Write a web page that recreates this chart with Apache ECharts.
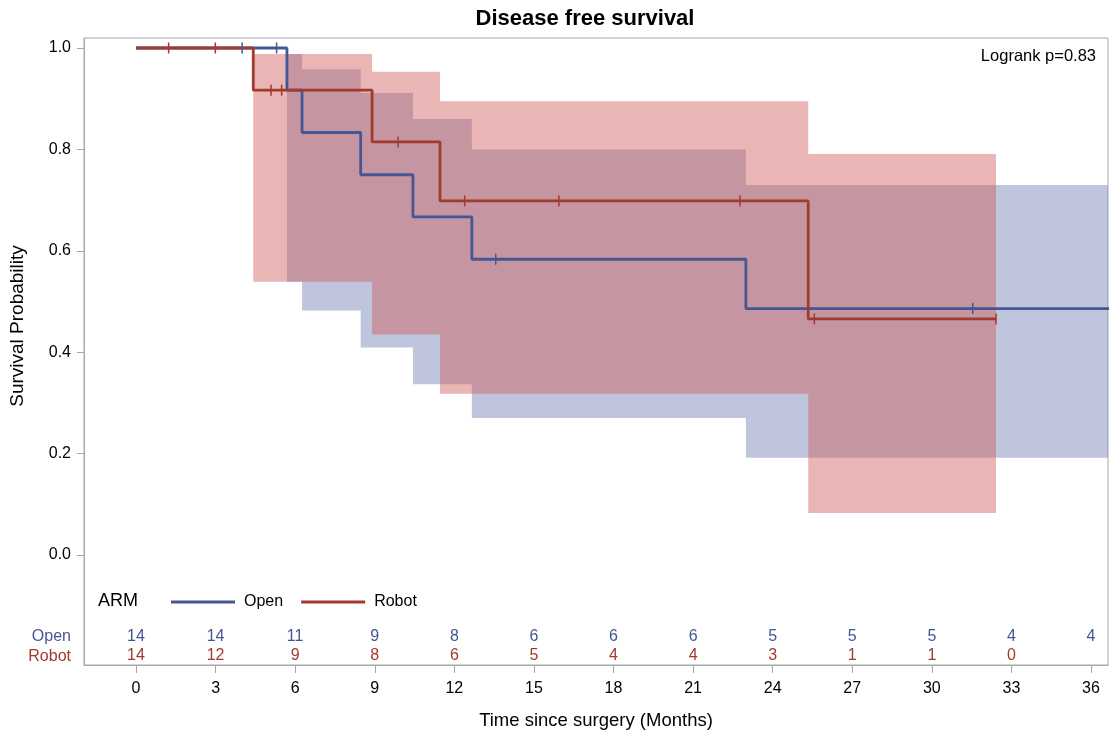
<!DOCTYPE html>
<html>
<head>
<meta charset="utf-8">
<script src="https://cdn.jsdelivr.net/npm/echarts@6/dist/echarts.min.js"></script>
<style>html,body{margin:0;padding:0;background:#fff}#c{width:1109px;height:735px}</style>
</head>
<body>
<div id="c"></div>
<script>
// ---- data ----
const xTicks = [0,3,6,9,12,15,18,21,24,27,30,33,36];
const yTicks = [0,0.2,0.4,0.6,0.8,1.0];
const seriesNames = ['Open','Robot'];
// KM step curves [time, survival]
const openCurve = [[0,1],[5.69,0.9167],[6.26,0.8333],[8.47,0.75],[10.44,0.6667],[12.66,0.5833],[22.99,0.4861],[37,0.4861]];
const robotCurve = [[0,1],[4.42,0.9167],[8.9,0.8148],[11.46,0.6984],[25.34,0.4656],[32.42,0.4656]];
// censored observations
const openCensor = [[4.0,1],[5.3,1],[13.56,0.5833],[31.54,0.4861]];
const robotCensor = [[1.23,1],[2.99,1],[5.09,0.9167],[5.49,0.9167],[9.88,0.8148],[12.39,0.6984],[15.94,0.6984],[22.77,0.6984],[25.57,0.4656],[32.42,0.4656]];
// confidence bands: [start, end, lower, upper]
const openBand = [[5.69,6.26,0.539,0.988],[6.26,8.47,0.482,0.958],[8.47,10.44,0.409,0.911],[10.44,12.66,0.337,0.860],[12.66,22.99,0.270,0.800],[22.99,37,0.192,0.730]];
const robotBand = [[4.42,8.9,0.539,0.988],[8.9,11.46,0.435,0.953],[11.46,25.34,0.318,0.895],[25.34,32.42,0.083,0.791]];
// numbers at risk
const openAtRisk = [14,14,11,9,8,6,6,6,5,5,5,4,4];
const robotAtRisk = [14,12,9,8,6,5,4,4,3,1,1,0];

const BLUE = '#445694', RED = '#A23A2E';
const FONT = '"Liberation Sans", Arial, sans-serif';
const X_MIN = -1.96, X_MAX = 36.64, Y_MIN = -0.217, Y_MAX = 1.0197;
const ROW1 = -0.160, ROW2 = -0.199;

function bandSeries(name, band, color) {
  return {
    type: 'custom', name: name + ' band', silent: true, clip: true, z: 1,
    data: [[band[0][0], band[0][2]]],
    renderItem: function (params, api) {
      const up = [], lo = [];
      band.forEach(b => {
        up.push(api.coord([b[0], b[3]])); up.push(api.coord([b[1], b[3]]));
        lo.push(api.coord([b[0], b[2]])); lo.push(api.coord([b[1], b[2]]));
      });
      const pts = up.concat(lo.reverse());
      return { type: 'polygon', shape: { points: pts }, style: { fill: color, opacity: 0.45 } };
    }
  };
}

const chart = echarts.init(document.getElementById('c'), null, { renderer: 'canvas' });
chart.setOption({
  animation: false,
  backgroundColor: '#fff',
  textStyle: { fontFamily: FONT },
  title: {
    text: 'Disease free survival', left: 580, top: 3, textAlign: 'center',
    textStyle: { fontFamily: FONT, fontSize: 22, fontWeight: 'bold', color: '#000' }
  },
  grid: { left: 84, right: 1, top: 38, bottom: 70, show: true, borderColor: '#a8a8a8', borderWidth: 1,
          containLabel: false, outerBoundsMode: 'none' },
  legend: {
    data: seriesNames, left: 166, top: 589, icon: 'rect', itemWidth: 64, itemHeight: 3, itemGap: 18,
    textStyle: { fontFamily: FONT, fontSize: 16, color: '#000', padding: [0,0,0,4] }
  },
  xAxis: {
    type: 'value', min: X_MIN, max: X_MAX,
    name: 'Time since surgery (Months)', nameLocation: 'middle', nameGap: 46,
    nameTextStyle: { fontFamily: FONT, fontSize: 18.5, color: '#000' },
    axisLine: { onZero: false, lineStyle: { color: '#a8a8a8' } },
    axisTick: { show: true, length: 8, lineStyle: { color: '#a8a8a8' }, customValues: xTicks },
    axisLabel: { fontFamily: FONT, fontSize: 16, color: '#000', margin: 16, customValues: xTicks, formatter: v => String(v) },
    splitLine: { show: false }
  },
  yAxis: {
    type: 'value', min: Y_MIN, max: Y_MAX,
    axisLine: { show: true, onZero: false, lineStyle: { color: '#a8a8a8' } },
    axisTick: { show: true, length: 7, lineStyle: { color: '#a8a8a8' }, customValues: yTicks },
    axisLabel: { fontFamily: FONT, fontSize: 16, color: '#000', margin: 13, customValues: yTicks, formatter: v => v.toFixed(1) },
    splitLine: { show: false }
  },
  graphic: [
    { type: 'text', x: 18, y: 326, rotation: Math.PI / 2,
      style: { text: 'Survival Probability', fontFamily: FONT, fontSize: 19, fill: '#000', align: 'center', verticalAlign: 'middle' } },
    { type: 'text', x: 1096, y: 56,
      style: { text: 'Logrank p=0.83', fontFamily: FONT, fontSize: 16.5, fill: '#000', align: 'right', verticalAlign: 'middle' } },
    { type: 'text', x: 98, y: 601,
      style: { text: 'ARM', fontFamily: FONT, fontSize: 18, fill: '#000', align: 'left', verticalAlign: 'middle' } },
    { type: 'text', x: 71, y: 637,
      style: { text: 'Open', fontFamily: FONT, fontSize: 16, fill: BLUE, align: 'right', verticalAlign: 'middle' } },
    { type: 'text', x: 71, y: 657,
      style: { text: 'Robot', fontFamily: FONT, fontSize: 16, fill: RED, align: 'right', verticalAlign: 'middle' } }
  ],
  series: [
    bandSeries('Open', openBand, '#6F7EB3'),
    bandSeries('Robot', robotBand, '#D05B5B'),
    { type: 'line', name: 'Open', data: openCurve, step: 'end', showSymbol: false, symbol: 'none', clip: true, z: 3,
      lineStyle: { color: BLUE, width: 2.8 }, itemStyle: { color: BLUE } },
    { type: 'line', name: 'Robot', data: robotCurve, step: 'end', showSymbol: false, symbol: 'none', clip: true, z: 4,
      lineStyle: { color: RED, width: 2.8 }, itemStyle: { color: RED } },
    { type: 'scatter', name: 'Open censored', data: openCensor, symbol: 'rect', symbolSize: [1.5, 11], z: 5,
      itemStyle: { color: BLUE, opacity: 1 } },
    { type: 'scatter', name: 'Robot censored', data: robotCensor, symbol: 'rect', symbolSize: [1.5, 11], z: 6,
      itemStyle: { color: RED, opacity: 1 } },
    { type: 'scatter', name: 'Open at risk', symbolSize: 1, itemStyle: { color: 'rgba(0,0,0,0)', opacity: 1 }, z: 7,
      data: openAtRisk.map((n, i) => [xTicks[i], ROW1, n]),
      label: { show: true, position: 'inside', formatter: p => String(p.value[2]), fontFamily: FONT, fontSize: 16, color: BLUE, opacity: 1 } },
    { type: 'scatter', name: 'Robot at risk', symbolSize: 1, itemStyle: { color: 'rgba(0,0,0,0)', opacity: 1 }, z: 7,
      data: robotAtRisk.map((n, i) => [xTicks[i], ROW2, n]),
      label: { show: true, position: 'inside', formatter: p => String(p.value[2]), fontFamily: FONT, fontSize: 16, color: RED, opacity: 1 } }
  ]
});
</script>
</body>
</html>
